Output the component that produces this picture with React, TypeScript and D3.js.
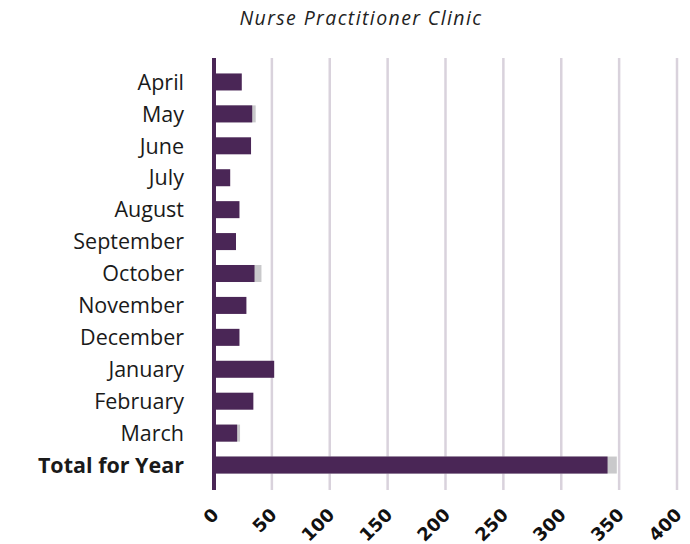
import * as d3 from "d3";

// values
const categories = [
  "April", "May", "June", "July", "August", "September", "October",
  "November", "December", "January", "February", "March", "Total for Year",
];
const seriesMain = [24, 33, 32, 14, 22, 19, 35, 28, 22, 52, 34, 20, 340];
const seriesExtra = [0, 3, 0, 0, 0, 0, 6, 0, 0, 0, 0, 2.5, 8];
const ticks = [0, 50, 100, 150, 200, 250, 300, 350, 400];

const W = 690;
const H = 544;
const PURPLE = "#4a2656";
const GRAY = "#c9c9cb";
const GRID = "#d9d2dc";
const FONT = "'Open Sans', 'Noto Sans', sans-serif";

export default function App() {
  const x = d3.scaleLinear().domain([0, 400]).range([214, 677]);
  const y = d3.scaleBand<string>()
    .domain(categories)
    .range([66, 481])
    .paddingInner(0.467)
    .paddingOuter(0.2335);

  const top = 58;
  const bottom = 490;

  return (
    <svg width={W} height={H} style={{ display: "block", position: "absolute", left: 0, top: 0 }}>
      <rect width={W} height={H} fill="white" />
      <text x={361} y={25} textAnchor="middle" fontFamily={FONT}
        fontStyle="italic" fontSize={19.5} letterSpacing={1.4} fill="#222">Nurse Practitioner Clinic</text>

      {/* gridlines */}
      {ticks.slice(1).map(t => (
        <line key={t} x1={x(t)} x2={x(t)} y1={top} y2={bottom} stroke={GRID} strokeWidth={2.5} />
      ))}

      {/* bars */}
      {categories.map((c, i) => {
        const y0 = y(c)!;
        const w1 = x(seriesMain[i]) - x(0);
        const w2 = x(seriesMain[i] + seriesExtra[i]) - x(0);
        return (
          <g key={c}>
            {seriesExtra[i] > 0 && (
              <rect x={x(0)} y={y0} width={w2} height={y.bandwidth()} fill={GRAY} />
            )}
            <rect x={x(0)} y={y0} width={w1} height={y.bandwidth()} fill={PURPLE} />
          </g>
        );
      })}

      {/* axis line */}
      <line x1={x(0)} x2={x(0)} y1={top} y2={bottom} stroke={PURPLE} strokeWidth={4} />

      {/* category labels */}
      {categories.map((c, i) => (
        <text key={c} x={184} y={y(c)! + y.bandwidth() / 2} dy="0.36em" textAnchor="end"
          fontFamily={FONT} fontSize={21.5}
          fontWeight={i === categories.length - 1 ? 700 : 400} fill="#1a1a1a">{c}</text>
      ))}

      {/* tick labels */}
      {ticks.map(t => (
        <text key={t} transform={`translate(${x(t) - 3},${507}) rotate(-45)`} textAnchor="end"
          dy="0.7em" fontFamily="'DejaVu Sans', sans-serif" fontSize={18} fontWeight={700}
          fill="#111">{t}</text>
      ))}
    </svg>
  );
}
